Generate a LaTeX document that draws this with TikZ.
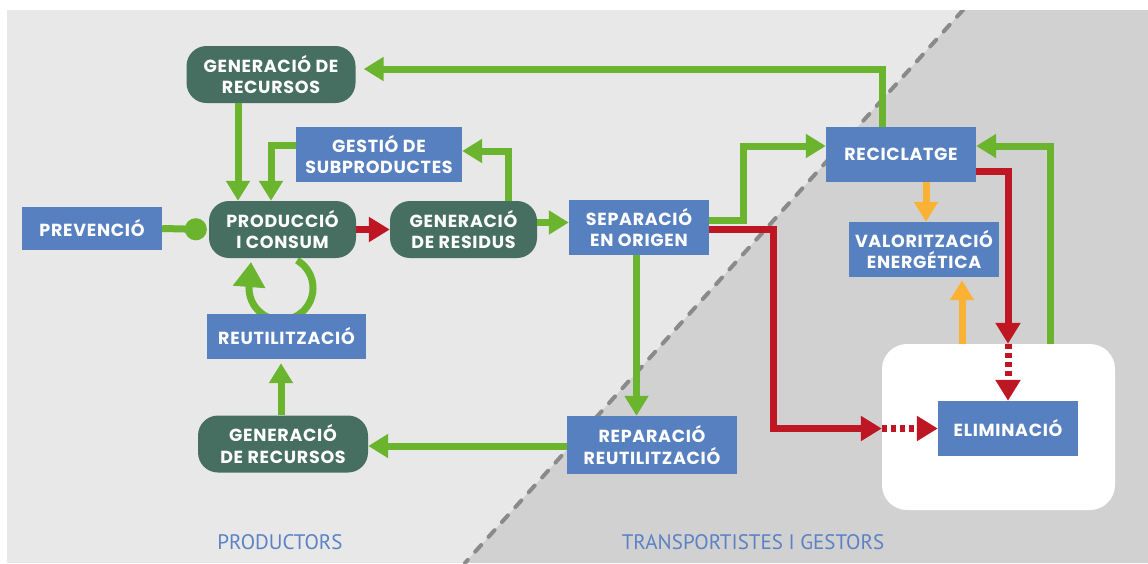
\documentclass[tikz,border=0pt]{standalone}
\usepackage{fontspec}
\newfontfamily\boxfont{Poppins}[LetterSpace=4]
\newfontfamily\labfont{PT Sans}
\usetikzlibrary{arrows.meta,calc}
\definecolor{cblue}{HTML}{5780C1}
\definecolor{cdkgreen}{HTML}{476F61}
\definecolor{cgreen}{HTML}{6AB42E}
\definecolor{cred}{HTML}{BE1622}
\definecolor{corange}{HTML}{F9B233}
\definecolor{cbgA}{HTML}{E8E8E8}
\definecolor{cbgB}{HTML}{D1D1D1}
\definecolor{cdash}{HTML}{8A8A8A}
\definecolor{clab}{HTML}{5B82C5}
\pgfdeclarelayer{bg}
\pgfsetlayers{bg,main}
\begin{document}
\begin{tikzpicture}[x=1pt,y=-1pt,
  box/.style={rectangle, fill=cblue, text=white, inner sep=0pt, align=center,
    font=\boxfont\bfseries\fontsize{17.5}{21.5}\selectfont},
  gbox/.style={box, fill=cdkgreen, rounded corners=20pt},
  link/.style={line width=7pt},
  garrow/.style={link, draw=cgreen, -{Triangle[width=23pt,length=20pt]}},
  rarrow/.style={link, draw=cred, -{Triangle[width=24pt,length=21pt]}},
  oarrow/.style={link, draw=corange, -{Triangle[width=23pt,length=20pt]}},
  rdot/.style={link, draw=cred, dash pattern=on 5pt off 4pt, -{Triangle[width=24pt,length=21pt]}},
  lab/.style={text=clab, font=\labfont\fontsize{21}{24}\selectfont, inner sep=0pt}
]
\useasboundingbox (0,0) rectangle (1148,563);
\begin{pgfonlayer}{bg}
  \fill[cbgA] (7,10) rectangle (1148,563);
  \fill[cbgB] (963,10) -- (1148,10) -- (1148,563) -- (465,563) -- cycle;
  \begin{scope}
    \clip (7,10) rectangle (1148,563);
    \draw[cdash, line width=4pt, line cap=round, dash pattern=on 9pt off 11pt] (963,10) -- (465,563);
  \end{scope}
\end{pgfonlayer}

% nodes
\node[fill=white, rounded corners=25pt, minimum width=233pt, minimum height=166pt, inner sep=0pt] (wbox) at (998.5,427) {};
\node[gbox, minimum width=169pt, minimum height=57pt] (genTop) at (271,74.5) {GENERACIÓ DE\\RECURSOS};
\node[box, minimum width=166pt, minimum height=55pt] (gestio) at (379,154.5) {GESTIÓ DE\\SUBPRODUCTES};
\node[box, minimum width=140pt, minimum height=43pt] (prev) at (92,228.5) {PREVENCIÓ};
\node[gbox, minimum width=147pt, minimum height=57pt] (prod) at (282.5,229.5) {PRODUCCIÓ\\I CONSUM};
\node[gbox, minimum width=147pt, minimum height=57pt] (resid) at (463.5,229.5) {GENERACIÓ\\DE RESIDUS};
\node[box, minimum width=140pt, minimum height=55pt] (sep) at (639,227.5) {SEPARACIÓ\\EN ORIGEN};
\node[box, minimum width=150pt, minimum height=55pt] (recic) at (901,154.5) {RECICLATGE};
\node[box, minimum width=150pt, minimum height=55pt] (valor) at (924,249.5) {VALORITZACIÓ\\ENERGÉTICA};
\node[box, minimum width=140pt, minimum height=55pt] (elim) at (1008,428.5) {ELIMINACIÓ};
\node[box, minimum width=159pt, minimum height=45pt] (reut) at (286.5,336.5) {REUTILITZACIÓ};
\node[gbox, minimum width=170pt, minimum height=57pt] (genBot) at (283,444) {GENERACIÓ\\DE RECURSOS};
\node[box, minimum width=170pt, minimum height=58pt] (repar) at (652,445) {REPARACIÓ\\REUTILITZACIÓ};
\node[lab] (lprod) at (280,542) {PRODUCTORS};
\node[lab] (ltrans) at (753,542) {TRANSPORTISTES I GESTORS};

% loop behind PRODUCCIO
\begin{pgfonlayer}{bg}
  \draw[link, draw=cgreen, -{Triangle[width=31pt,length=25pt]}]
    (281,288) ++(-60:32) arc[start angle=-60, end angle=180, radius=32] -- ++(2,-26);
\end{pgfonlayer}

% connectors
\draw[garrow] ([xshift=-19pt]recic.north) |- ([xshift=8pt,yshift=5.5pt]genTop.east);
\draw[garrow] ([xshift=-33pt]genTop.south) -- ([xshift=-33pt]genTop.south |- prod.north);
\draw[garrow] ([yshift=9.5pt]gestio.west) -| ([xshift=-11.5pt]prod.north);
\draw[garrow] ([xshift=44.5pt]resid.north) |- ([yshift=3.5pt]gestio.east);
\draw[link, draw=cgreen, -{Circle[length=22pt]}] (prev.east) -- ([xshift=-2pt]prod.west);
\draw[rarrow] (prod.east) -- (resid.west);
\draw[garrow] ([yshift=7pt]resid.east) -- ([yshift=7pt]resid.east -| sep.west);
\draw[garrow] ([yshift=7.5pt]sep.east) -- ++(34,0) |- ([yshift=8.5pt]recic.west);
\draw[rarrow] ([yshift=-2pt]sep.east) -- ++(64,0) |- (wbox.west |- elim.west);
\draw[rdot] (wbox.west |- elim.west) -- (elim.west);
\draw[rarrow] ([yshift=-17pt]recic.east) -| (elim.north |- wbox.north);
\draw[rdot] (elim.north |- wbox.north) -- (elim.north);
\draw[oarrow] ([xshift=25pt]recic.south) -- ([xshift=25pt]recic.south |- valor.north);
\draw[oarrow] ([xshift=-36.5pt]wbox.north) -- ([xshift=-36.5pt,yshift=-3pt]wbox.north |- valor.south);
\draw[garrow] ([xshift=51.5pt]wbox.north) |- ([yshift=8.5pt]recic.east);
\draw[garrow] ([xshift=-2.5pt]sep.south) -- ([xshift=-2.5pt]sep.south |- repar.north);
\draw[garrow] ([yshift=-1pt]repar.west) -- ([yshift=-1pt]repar.west -| genBot.east);
\draw[garrow] ([xshift=-2pt]genBot.north) -- ([xshift=-2pt,yshift=-4pt]genBot.north |- reut.south);
\end{tikzpicture}
\end{document}
